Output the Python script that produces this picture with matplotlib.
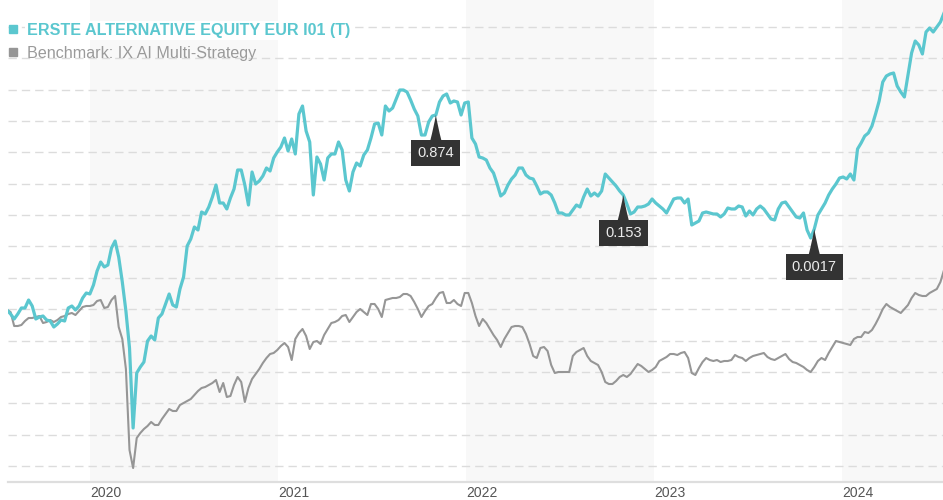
import numpy as np
import pandas as pd
import matplotlib
matplotlib.use("Agg")
import matplotlib.pyplot as plt
from matplotlib.lines import Line2D

plt.rcParams['font.family'] = ['Liberation Sans', 'DejaVu Sans']

dates = pd.date_range('2019-07-24', periods=261, freq='7D')

fund = [
    172, 168, 163, 168, 174, 174, 182, 176, 163, 165,
    166, 162, 161, 155, 158, 162, 161, 174, 176, 172,
    176, 184, 189, 188, 197, 211, 220, 215, 217, 234,
    241, 225, 200, 171, 134, 54, 109, 115, 120, 141,
    146, 142, 164, 168, 178, 188, 177, 175, 193, 205,
    236, 243, 255, 252, 270, 268, 275, 285, 297, 279,
    279, 273, 284, 293, 312, 312, 297, 277, 310, 298,
    301, 306, 314, 311, 324, 330, 335, 344, 331, 343,
    328, 368, 376, 351, 340, 287, 325, 318, 302, 324,
    328, 328, 340, 332, 302, 291, 310, 319, 316, 327,
    332, 344, 358, 359, 347, 376, 371, 374, 383, 392,
    392, 390, 382, 373, 366, 347, 347, 360, 366, 367,
    380, 386, 388, 379, 381, 380, 367, 379, 380, 344,
    338, 325, 324, 322, 314, 309, 298, 286, 289, 297,
    303, 307, 314, 314, 307, 304, 303, 296, 288, 290,
    290, 287, 279, 269, 269, 267, 267, 272, 277, 275,
    285, 293, 286, 289, 286, 291, 308, 304, 300, 296,
    291, 287, 278, 268, 270, 275, 275, 276, 278, 283,
    279, 276, 273, 269, 276, 283, 284, 284, 279, 283,
    257, 259, 261, 269, 270, 269, 268, 268, 265, 268,
    274, 273, 273, 276, 275, 266, 271, 267, 273, 276,
    273, 268, 263, 262, 273, 279, 280, 275, 270, 265,
    264, 269, 252, 244, 253, 267, 273, 279, 287, 293,
    298, 304, 305, 303, 308, 302, 333, 339, 346, 349,
    356, 368, 381, 400, 406, 408, 409, 396, 390, 385,
    407, 429, 441, 437, 428, 450, 454, 450, 455, 460, 469,
]

bench = [
    172, 170, 156, 156, 157, 161, 164, 164, 165, 166,
    159, 160, 162, 160, 162, 165, 166, 168, 169, 167,
    171, 175, 176, 176, 177, 181, 182, 174, 175, 182,
    186, 155, 143, 113, 32, 14, 44, 49, 53, 56,
    60, 57, 57, 63, 68, 73, 71, 71, 77, 79,
    81, 83, 87, 91, 94, 95, 97, 99, 102, 90,
    99, 85, 86, 97, 105, 100, 80, 94, 103, 108,
    113, 119, 124, 128, 129, 132, 136, 139, 135, 122,
    143, 149, 153, 146, 133, 140, 141, 138, 147, 153,
    159, 160, 162, 166, 167, 160, 165, 170, 173, 170,
    167, 178, 178, 173, 165, 182, 183, 184, 184, 185,
    188, 188, 186, 180, 173, 165, 171, 176, 178, 184,
    189, 190, 179, 179, 182, 178, 176, 189, 189, 179,
    166, 156, 163, 159, 153, 147, 142, 135, 143, 149,
    155, 156, 156, 155, 148, 138, 126, 124, 134, 135,
    131, 117, 109, 110, 110, 110, 110, 126, 130, 132,
    134, 126, 121, 119, 117, 110, 100, 98, 98, 101,
    105, 107, 105, 108, 113, 118, 116, 113, 110, 112,
    115, 121, 123, 125, 128, 128, 127, 129, 130, 124,
    109, 107, 114, 120, 124, 122, 121, 122, 120, 121,
    121, 122, 127, 125, 124, 121, 124, 126, 127, 128,
    129, 125, 123, 122, 124, 126, 128, 123, 120, 119,
    117, 115, 112, 110, 115, 121, 124, 122, 129, 135,
    141, 140, 139, 138, 137, 143, 145, 145, 150, 149,
    152, 158, 165, 173, 178, 175, 173, 171, 169, 173,
    177, 184, 189, 187, 186, 186, 189, 191, 193, 200, 212,
]

fund_name = 'ERSTE ALTERNATIVE EQUITY EUR I01 (T)'
bench_name = 'Benchmark: IX AI Multi-Strategy'

# value flags pinned to the fund line
flags = [('2021-11-03', '0.874'), ('2022-11-02', '0.153'), ('2023-11-08', '0.0017')]

years = [2020, 2021, 2022, 2023, 2024]
shaded_years = [2020, 2022, 2024]

teal = '#5bc7cf'
grey = '#969696'

fig = plt.figure(figsize=(9.43, 5.0), dpi=100)
ax = fig.add_axes([8 / 943, 18 / 500, 935 / 943, 482 / 500])

for yr in shaded_years:
    ax.axvspan(pd.Timestamp(f'{yr}-01-01'), pd.Timestamp(f'{yr + 1}-01-01'),
               color='#f8f8f8', lw=0, zorder=0)

ax.plot(dates, bench, color=grey, lw=1.5, zorder=3)
ax.plot(dates, fund, color=teal, lw=2.3, zorder=4)

for d, label in flags:
    i = dates.get_loc(pd.Timestamp(d))
    ax.annotate(label, xy=(dates[i], fund[i]), xytext=(0, -27.5),
                textcoords='offset points', ha='center', va='center',
                fontsize=10.5, color='#ececec', zorder=6,
                bbox=dict(boxstyle='square,pad=0.42', fc='#333333', ec='none'),
                arrowprops=dict(arrowstyle='wedge,tail_width=0.75,shrink_factor=0.45',
                                fc='#333333', ec='none', shrinkA=0, shrinkB=0))

ax.set_xlim(pd.Timestamp('2019-07-26'), pd.Timestamp('2024-07-15'))
ax.set_ylim(0, 482)

ax.set_yticks(np.arange(16, 470, 31.36))
ax.yaxis.grid(True, color='#dcdcdc', linestyle=(0, (6, 3.6)), lw=1.0)
ax.set_axisbelow(True)
ax.tick_params(axis='y', length=0, labelleft=False)

ax.set_xticks([pd.Timestamp(f'{y}-01-01') for y in years])
ax.set_xticklabels([str(y) for y in years], ha='left', fontsize=10, color='#555555')
ax.tick_params(axis='x', length=0, pad=3)

for s in ['left', 'right', 'top']:
    ax.spines[s].set_visible(False)
ax.spines['bottom'].set_color('#dedede')
ax.spines['bottom'].set_linewidth(1.6)

handles = [Line2D([], [], marker='s', ls='none', color=teal, ms=5.8),
           Line2D([], [], marker='s', ls='none', color=grey, ms=5.8)]
leg = ax.legend(handles, [fund_name, bench_name], loc='upper left',
                bbox_to_anchor=(7.4 / 943, 1 - 22.6 / 500), bbox_transform=fig.transFigure,
                frameon=False, fontsize=11.6, borderpad=0, borderaxespad=0,
                handlelength=0.7, handletextpad=0.52, labelspacing=0.51)
t0, t1 = leg.get_texts()
t0.set_color(teal)
t0.set_fontweight('bold')
t0.set_bbox(dict(fc='white', ec='none', pad=1.5))
t1.set_color('#9a9a9a')
leg.set_zorder(7)

fig.savefig('out.png', dpi=100)
